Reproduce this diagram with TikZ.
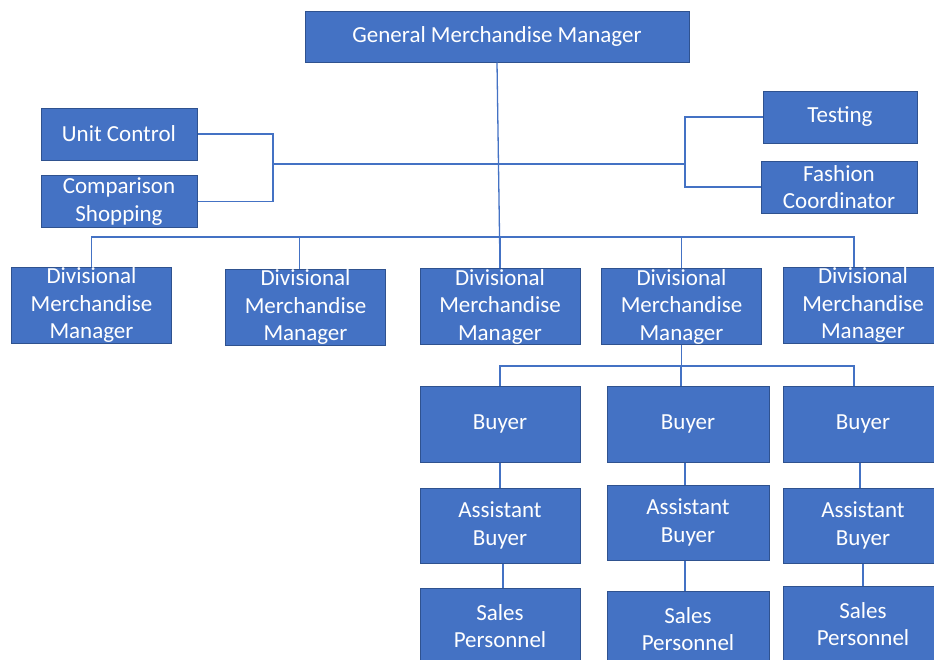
\documentclass[tikz,border=0pt]{standalone}
\usepackage{fontspec}
\setmainfont{Carlito}
\usepackage{tikz}
\usetikzlibrary{positioning}

\definecolor{boxblue}{HTML}{4472C4}
\definecolor{boxedge}{HTML}{2F528F}

\begin{document}
\begin{tikzpicture}[x=1pt, y=-1pt,
					post/.style={draw=boxedge, line width=1pt, fill=boxblue, text=white,
						align=center, inner sep=0pt, font=\fontsize{23}{27.5}\selectfont,
						minimum width=160pt, minimum height=76pt},
					small/.style={post, minimum width=156pt, minimum height=52pt},
					conn/.style={draw=boxblue, line width=1.3pt}]

\useasboundingbox (0,0) rectangle (934,659);

\node[post, minimum width=384pt, minimum height=51pt] (gmm) at (497,36.5) {General Merchandise Manager};

\node[small] (unit) at (119,134)   {Unit Control};
\node[small] (comp) at (119,201.5) {Comparison\\Shopping};
\node[small, minimum width=154pt] (test) at (840,117) {Testing};
\node[small] (fash) at (839,187)   {Fashion\\Coordinator};

\node[post] (dmm1) at (91.5,305)  {Divisional\\Merchandise\\Manager};
\node[post] (dmm2) at (305.5,307) {Divisional\\Merchandise\\Manager};
\node[post] (dmm3) at (500,306.5) {Divisional\\Merchandise\\Manager};
\node[post] (dmm4) at (681.5,306.5) {Divisional\\Merchandise\\Manager};
\node[post] (dmm5) at (863,305)   {Divisional\\Merchandise\\Manager};

\node[post] (buy1) at (500,424) {Buyer};
\node[post, minimum width=162pt] (buy2) at (688,424) {Buyer};
\node[post] (buy3) at (863,424) {Buyer};

\node[post, minimum height=75pt] (ast1) at (500,525.5) {Assistant\\Buyer};
\node[post, minimum width=162pt, minimum height=75pt] (ast2) at (688,522.5) {Assistant\\Buyer};
\node[post, minimum height=75pt] (ast3) at (863,525.5) {Assistant\\Buyer};

\node[post] (sal1) at (500,626) {Sales\\Personnel};
\node[post, minimum width=162pt] (sal2) at (688,629) {Sales\\Personnel};
\node[post] (sal3) at (863,624) {Sales\\Personnel};

\coordinate (lj) at (273,164);
\coordinate (rj) at (685,164);
\coordinate (dbus) at (497,237);
\coordinate (bbus) at (681.5,366);

% staff lines
\draw[conn] (unit.east) -| (lj) |- (comp.east);
\draw[conn] (test.west) -| (rj) |- (fash.west);
\draw[conn] (lj) -- (rj);
\draw[conn] (gmm.south) -- (dmm3.north);

% divisions
\foreach \n/\dx in {1/0, 2/-6, 3/0, 4/0, 5/-9}
	\draw[conn] ([xshift=\dx pt]dmm\n.north) |- (dbus);

% buyers
\draw[conn] (dmm4.south) -- (bbus);
\foreach \n/\dx in {1/0, 2/-7, 3/-9}
	\draw[conn] ([xshift=\dx pt]buy\n.north) |- (bbus);
\foreach \n/\dx in {1/0, 2/-3, 3/-3}
	\draw[conn] ([xshift=\dx pt]buy\n.south) -- ([xshift=\dx pt]ast\n.north);
\foreach \n/\dx in {1/3, 2/-3, 3/0}
	\draw[conn] ([xshift=\dx pt]ast\n.south) -- ([xshift=\dx pt]sal\n.north);
\end{tikzpicture}
\end{document}
